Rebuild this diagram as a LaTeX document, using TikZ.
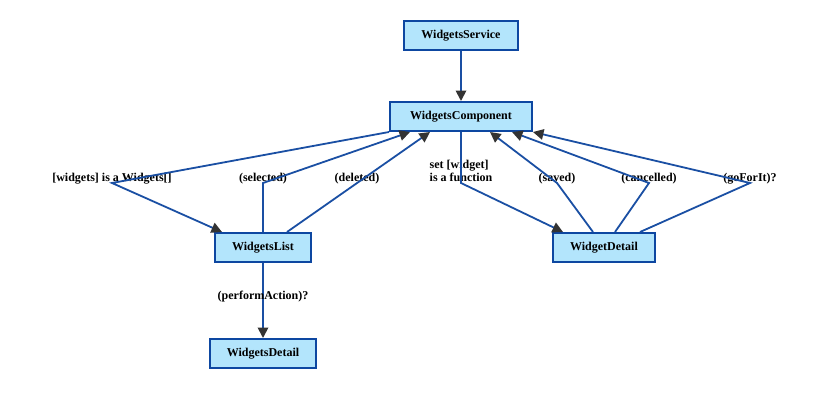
\documentclass[tikz,border=0pt]{standalone}
\usepackage{fontspec}
\setmainfont{Liberation Serif}
\usepackage{xcolor}
\usetikzlibrary{arrows.meta, positioning}
\definecolor{boxblue}{HTML}{B3E5FC}
\definecolor{edgeblue}{HTML}{0D47A1}
\definecolor{lineblue}{HTML}{1A4FA3}
\definecolor{tipgray}{HTML}{333333}

\begin{document}
\begin{tikzpicture}[
  x=1pt, y=-1pt,
  every node/.style={font=\bfseries\fontsize{12}{13}\selectfont, text=black},
  box/.style={rectangle, draw=edgeblue, fill=boxblue, line width=2pt,
              minimum height=29pt, inner xsep=17pt, align=center},
  arr/.style={-{Triangle[length=10.5pt, width=10.5pt, color=tipgray]},
              color=lineblue, line width=1.8pt},
  lbl/.style={inner sep=0pt}
]
\useasboundingbox (0,0) rectangle (827,410);
% Service / component
\node[box] (svc) at (461,35.5) {WidgetsService};
\node[box, below=50pt of svc, minimum width=142pt] (comp) {WidgetsComponent};
% Children
\node[box, below=100pt of comp, xshift=-198pt] (list)   {WidgetsList};
\node[box, below=100pt of comp, xshift=143pt]  (detail) {WidgetDetail};
\node[box, below=75pt of list] (wdetail) {WidgetsDetail};
% Bends
\coordinate (k1) at (112,183);
\coordinate (k2) at (263,183);
\coordinate (k4) at (461,183);
\coordinate (k5) at (557,183);
\coordinate (k6) at (649,183);
\coordinate (k7) at (750,183);
% Labels
\node[lbl, anchor=base] (lwid)  at ([yshift=2pt]k1) {[widgets] is a Widgets[]};
\node[lbl, anchor=base] (lsel)  at ([yshift=2pt]k2) {(selected)};
\node[lbl, anchor=base] (ldel)  at (357,181)        {(deleted)};
\node[lbl, align=left]  (lset)  at ([yshift=12pt]k4) {set [widget]\\is a function};
\node[lbl, anchor=base] (lsav)  at ([yshift=2pt]k5) {(saved)};
\node[lbl, anchor=base] (lcan)  at ([yshift=2pt]k6) {(cancelled)};
\node[lbl, anchor=base] (lgo)   at ([yshift=2pt]k7) {(goForIt)?};
% Arrows main flow
\draw[arr] (svc) -- (comp);
\draw[arr] (list) -- (wdetail)
      node[lbl, pos=0.45] {(performAction)?};
% Inputs
\draw[arr] (comp.south west) -- (k1) -- ([xshift=-41pt]list.north);
\draw[arr] (comp.south) -- (k4) -- ([xshift=-41pt]detail.north);
% Outputs
\draw[arr] (list.north) -- (k2) -- ([xshift=-51pt]comp.south);
\draw[arr] ([xshift=24pt]list.north) -- ([xshift=-31pt]comp.south);
\draw[arr] ([xshift=-11pt]detail.north) -- (k5) -- ([xshift=29pt]comp.south);
\draw[arr] ([xshift=11pt]detail.north) -- (k6) -- ([xshift=51pt]comp.south);
\draw[arr] ([xshift=36pt]detail.north) -- (k7) -- (comp.south east);
\end{tikzpicture}
\end{document}
